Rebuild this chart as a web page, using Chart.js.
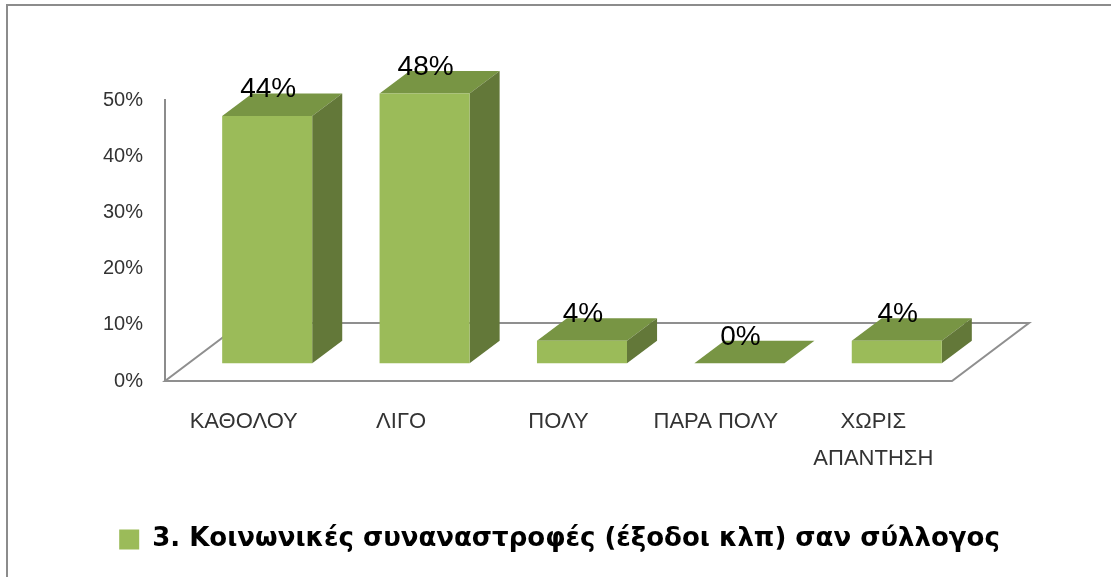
<!DOCTYPE html>
<html>
<head>
<meta charset="utf-8">
<script src="https://cdn.jsdelivr.net/npm/chart.js@4/dist/chart.umd.min.js"></script>
<style>
  html, body { margin: 0; padding: 0; background: #ffffff; }
  #wrap { width: 1111px; height: 577px; }
</style>
</head>
<body>
<div id="wrap"><canvas id="c" width="1111" height="577"></canvas></div>
<script>
// ---- data ----
const categories = ['ΚΑΘΟΛΟΥ', 'ΛΙΓΟ', 'ΠΟΛΥ', 'ΠΑΡΑ ΠΟΛΥ', ['ΧΩΡΙΣ', 'ΑΠΑΝΤΗΣΗ']];
const values = [44, 48, 4, 0, 4];
const seriesName = '3. Κοινωνικές συναναστροφές (έξοδοι κλπ) σαν σύλλογος';
const yTickValues = [0, 10, 20, 30, 40, 50];

// ---- styling / projection constants ----
const FRONT_COLOR = '#9bbb59';
const TOP_COLOR = '#789544';
const SIDE_COLOR = '#637839';
const FLOOR_DX = 77, FLOOR_DY = -58;   // depth vector of the floor
const BAR_FRONT = 0.305;               // bar front plane, fraction of depth
const BAR_DEPTH = 0.39;                // bar depth, fraction of depth

const threeD = {
  id: 'threeD',
  beforeDraw(chart) {
    const ctx = chart.ctx;
    ctx.save();
    ctx.strokeStyle = '#8c8c8c';
    ctx.lineWidth = 2;
    ctx.beginPath();
    ctx.moveTo(7, chart.height);
    ctx.lineTo(7, 5);
    ctx.lineTo(chart.width, 5);
    ctx.stroke();
    ctx.restore();
  },
  beforeDatasetsDraw(chart) {
    const { ctx, chartArea: a } = chart;
    // floor
    ctx.save();
    ctx.strokeStyle = '#8f8f8f';
    ctx.lineWidth = 2;
    ctx.beginPath();
    ctx.moveTo(a.left, a.bottom);
    ctx.lineTo(a.right, a.bottom);
    ctx.lineTo(a.right + FLOOR_DX, a.bottom + FLOOR_DY);
    ctx.lineTo(a.left + FLOOR_DX, a.bottom + FLOOR_DY);
    ctx.closePath();
    ctx.stroke();
    ctx.restore();
    // bars moved into their depth plane; draw top & side faces
    ctx.save();
    ctx.translate(FLOOR_DX * BAR_FRONT, FLOOR_DY * BAR_FRONT);
    const sx = FLOOR_DX * BAR_DEPTH, sy = FLOOR_DY * BAR_DEPTH;
    chart.getDatasetMeta(0).data.forEach(bar => {
      const { x, y, base, width } = bar.getProps(['x', 'y', 'base', 'width'], true);
      const l = x - width / 2, r = x + width / 2;
      ctx.fillStyle = TOP_COLOR;
      ctx.beginPath();
      ctx.moveTo(l, y); ctx.lineTo(r, y); ctx.lineTo(r + sx, y + sy); ctx.lineTo(l + sx, y + sy);
      ctx.closePath(); ctx.fill();
      if (base - y > 0.5) {
        ctx.fillStyle = SIDE_COLOR;
        ctx.beginPath();
        ctx.moveTo(r, y); ctx.lineTo(r + sx, y + sy); ctx.lineTo(r + sx, base + sy); ctx.lineTo(r, base);
        ctx.closePath(); ctx.fill();
      }
    });
  },
  afterDatasetsDraw(chart) {
    const ctx = chart.ctx;
    ctx.restore();
    ctx.save();
    ctx.font = '28px "Liberation Sans", Arial, sans-serif';
    ctx.fillStyle = '#000000';
    ctx.textAlign = 'center';
    ctx.textBaseline = 'alphabetic';
    chart.getDatasetMeta(0).data.forEach((bar, i) => {
      const { x, y } = bar.getProps(['x', 'y'], true);
      ctx.fillText(values[i] + '%', x + FLOOR_DX * BAR_FRONT + 1,
        y + FLOOR_DY * (BAR_FRONT + BAR_DEPTH) + 4);
    });
    ctx.restore();
  }
};

const BOTTOM_PAD = 14.5;
const AXIS_BOTTOM = 381;

new Chart(document.getElementById('c'), {
  type: 'bar',
  data: {
    labels: categories,
    datasets: [{
      label: seriesName,
      data: values,
      backgroundColor: FRONT_COLOR,
      borderWidth: 0,
      barPercentage: 1,
      categoryPercentage: 0.572,
      clip: false
    }]
  },
  options: {
    responsive: false,
    animation: false,
    devicePixelRatio: 1,
    layout: { padding: { top: 100, left: 8, right: 0, bottom: BOTTOM_PAD } },
    plugins: {
      legend: {
        position: 'bottom',
        labels: {
          boxWidth: 20, boxHeight: 20, padding: 10, color: '#000000',
          font: { family: '"DejaVu Sans", sans-serif', size: 26, weight: 'bold' }
        }
      },
      tooltip: { enabled: false }
    },
    scales: {
      x: {
        grid: { display: false, drawTicks: false },
        border: { display: false },
        ticks: {
          padding: 23, color: '#333333', maxRotation: 0, autoSkip: false,
          font: { family: '"Liberation Sans", Arial, sans-serif', size: 22, lineHeight: 1.65 }
        },
        afterFit: s => { s.height = s.chart.height - AXIS_BOTTOM - s.chart.legend.height - BOTTOM_PAD; }
      },
      y: {
        min: 0, max: 50,
        grid: { display: false, drawTicks: false },
        border: { display: true, color: '#8c8c8c', width: 2 },
        ticks: {
          padding: 22, color: '#333333',
          font: { family: '"Liberation Sans", Arial, sans-serif', size: 20 },
          callback: v => v + '%'
        },
        afterBuildTicks: s => { s.ticks = yTickValues.map(v => ({ value: v })); },
        afterFit: s => { s.width = 157; }
      },
      yR: {
        position: 'right',
        grid: { display: false, drawTicks: false },
        border: { display: false },
        ticks: { display: false },
        afterFit: s => { s.width = 159; }
      }
    }
  },
  plugins: [threeD]
});
</script>
</body>
</html>
